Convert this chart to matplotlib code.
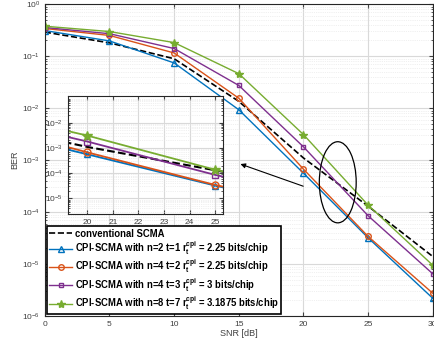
import numpy as np
import matplotlib
matplotlib.use('Agg')
import matplotlib.pyplot as plt
from matplotlib.patches import Ellipse

plt.rcParams['font.family'] = ['Liberation Sans', 'DejaVu Sans']
plt.rcParams['mathtext.fontset'] = 'custom'
plt.rcParams['mathtext.rm'] = 'Liberation Sans'
plt.rcParams['mathtext.bf'] = 'Liberation Sans:bold'

# data
snr = [0, 5, 10, 15, 20, 25, 30]
ber_conv = [0.29, 0.18, 0.089, 0.0135, 1.1e-3, 1.3e-4, 1.4e-5]
ber_n2t1 = [0.31, 0.196, 0.074, 0.0093, 5.6e-4, 3.2e-5, 2.2e-6]
ber_n4t2 = [0.34, 0.25, 0.115, 0.0155, 6.7e-4, 3.4e-5, 2.75e-6]
ber_n4t3 = [0.355, 0.27, 0.14, 0.0273, 1.8e-3, 8.5e-5, 6.5e-6]
ber_n8t7 = [0.376, 0.297, 0.182, 0.046, 3.1e-3, 1.36e-4, 9.5e-6]

labels = ['conventional SCMA',
          r'CPI-SCMA with n=2 t=1 $\mathbf{r_t^{cpi}}$ = 2.25 bits/chip',
          r'CPI-SCMA with n=4 t=2 $\mathbf{r_t^{cpi}}$ = 2.25 bits/chip',
          r'CPI-SCMA with n=4 t=3 $\mathbf{r_t^{cpi}}$ = 3 bits/chip',
          r'CPI-SCMA with n=8 t=7 $\mathbf{r_t^{cpi}}$ = 3.1875 bits/chip']

c_blue = '#0072BD'
c_orange = '#D95319'
c_purple = '#7E2F8E'
c_green = '#77AC30'
tick_col = '#404040'


def draw(ax, lw=1.0, ms=4):
    ax.semilogy(snr, ber_conv, '--', color='k', lw=lw + 0.2, label=labels[0])
    ax.semilogy(snr, ber_n2t1, '-^', color=c_blue, lw=lw, ms=ms,
                mfc='none', mew=1.0, label=labels[1])
    ax.semilogy(snr, ber_n4t2, '-o', color=c_orange, lw=lw, ms=ms,
                mfc='none', mew=1.0, label=labels[2])
    ax.semilogy(snr, ber_n4t3, '-s', color=c_purple, lw=lw, ms=ms - 0.5,
                mfc='none', mew=1.0, label=labels[3])
    ax.semilogy(snr, ber_n8t7, '-*', color=c_green, lw=lw, ms=ms + 2,
                label=labels[4])


def style(ax, fs):
    ax.grid(True, which='major', color='#d9d9d9', lw=0.8)
    ax.grid(True, which='minor', color='#e2e2e2', lw=0.5, ls=':')
    ax.tick_params(which='both', direction='in', labelsize=fs,
                   colors=tick_col, top=True, right=True)
    ax.tick_params(which='major', length=3)
    ax.tick_params(which='minor', length=1.5)
    for s in ax.spines.values():
        s.set_color('#262626')
        s.set_linewidth(0.8)


fig = plt.figure(figsize=(4.35, 3.44), dpi=100)
ax = fig.add_axes([0.103, 0.081, 0.892, 0.907])
draw(ax)
ax.set_xlim(0, 30)
ax.set_ylim(1e-6, 1)
ax.set_xticks([0, 5, 10, 15, 20, 25, 30])
ax.set_yticks([1e0, 1e-1, 1e-2, 1e-3, 1e-4, 1e-5, 1e-6])
style(ax, 6)
ax.set_xlabel('SNR [dB]', fontsize=6.5, color=tick_col, labelpad=1)
ax.set_ylabel('BER', fontsize=6.5, color=tick_col, labelpad=2)

leg = ax.legend(loc='lower left', prop={'weight': 'bold', 'size': 6.85},
                handlelength=2.4, borderaxespad=0.2, labelspacing=0.05,
                borderpad=0.25, handletextpad=0.3, fancybox=False,
                framealpha=1)
leg.get_frame().set_edgecolor('k')
leg.get_frame().set_linewidth(1.2)

# ellipse + arrow pointing to inset
ax.add_patch(Ellipse((0.755, 0.429), 0.095, 0.26, transform=ax.transAxes,
                     fill=False, ec='k', lw=0.9, zorder=5))
ax.annotate('', xy=((238 - 45) / 388, (316 - 163) / 312),
            xytext=((306 - 45) / 388, (316 - 187) / 312),
            xycoords='axes fraction', textcoords='axes fraction',
            arrowprops=dict(arrowstyle='-|>', color='k', lw=0.8,
                            mutation_scale=7), zorder=5)

ins = fig.add_axes([68 / 435, 1 - 214 / 344, 155 / 435, 118 / 344])
draw(ins, lw=1.3, ms=5)
ins.set_xlim(19.25, 25.3)
ins.set_ylim(10 ** -5.62, 10 ** -0.94)
ins.set_xticks([20, 21, 22, 23, 24, 25])
ins.set_yticks([1e-2, 1e-3, 1e-4, 1e-5])
style(ins, 6)
ins.set_facecolor('white')

fig.savefig('out.png', dpi=100)
